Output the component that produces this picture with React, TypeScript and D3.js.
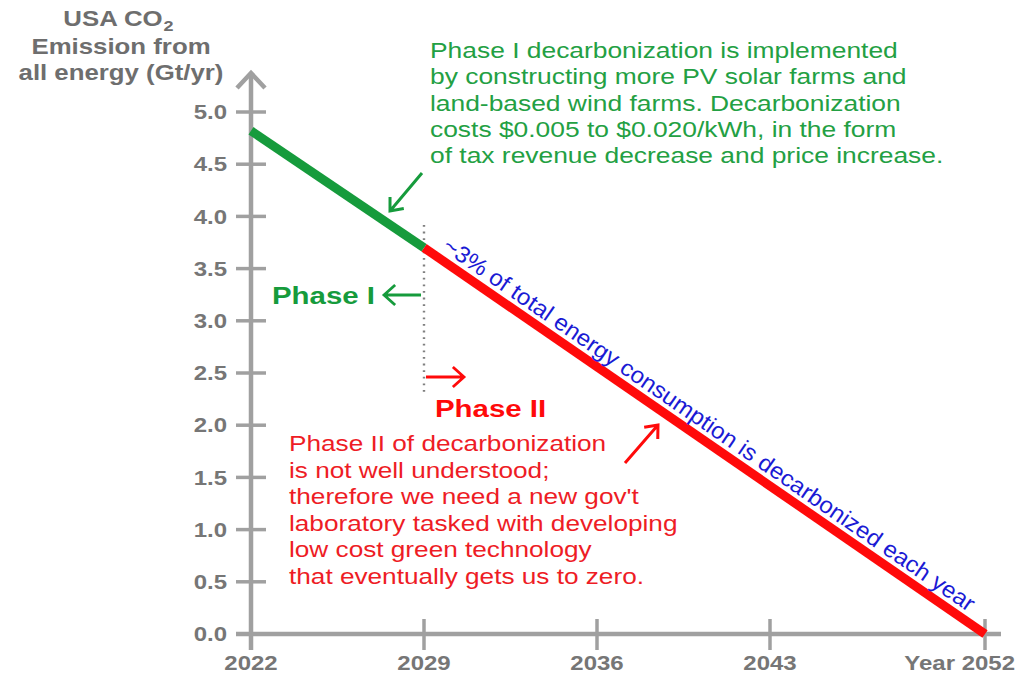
import React from "react";
import * as d3 from "d3";

// ---- data ----
const phaseIYears = [2022, 2029];
const phaseIValues = [4.82, 3.7];
const phaseIIYears = [2029, 2052];
const phaseIIValues = [3.7, 0.0];
const yTicks = [0, 0.5, 1.0, 1.5, 2.0, 2.5, 3.0, 3.5, 4.0, 4.5, 5.0];
const xTicks = [2022, 2029, 2036, 2043, 2052];
const xTickLabels = ["2022", "2029", "2036", "2043", "Year 2052"];
const titleLines = ["Emission from", "all energy (Gt/yr)"];
const greenNote = [
  "Phase I decarbonization is implemented",
  "by constructing more PV solar farms and",
  "land-based wind farms. Decarbonization",
  "costs $0.005 to $0.020/kWh, in the form",
  "of tax revenue decrease and price increase.",
];
const redNote = [
  "Phase II of decarbonization",
  "is not well understood;",
  "therefore we need a new gov't",
  "laboratory tasked with developing",
  "low cost green technology",
  "that eventually gets us to zero.",
];
const blueNote = "~3% of total energy consumption is decarbonized each year";

const FONT = "'Liberation Sans', Arial, Helvetica, sans-serif";
const SX = 1.2;
const AXIS = "#a0a0a0";
const LABEL = "#767676";
const GREEN_LINE = "#169b3c";
const GREEN_TEXT = "#23a043";
const RED = "#ff0a0a";
const RED_TEXT = "#ee1c25";
const BLUE = "#1a1ad4";

function SText(props: {
  x: number;
  y: number;
  size: number;
  fill: string;
  weight?: string | number;
  anchor?: string;
  dy?: string;
  sx?: number;
  children: React.ReactNode;
}) {
  const { x, y, size, fill, weight = "normal", anchor = "start", dy, sx = SX, children } = props;
  return (
    <g transform={`translate(${x},${y}) scale(${sx},1)`}>
      <text
        x={0}
        y={0}
        dy={dy}
        fontFamily={FONT}
        fontSize={size}
        fontWeight={weight}
        fill={fill}
        textAnchor={anchor}
      >
        {children}
      </text>
    </g>
  );
}

function arrow(x1: number, y1: number, x2: number, y2: number, len = 14, deg = 40) {
  const a = Math.atan2(y1 - y2, x1 - x2);
  const r = (deg * Math.PI) / 180;
  const ax1 = x2 + len * Math.cos(a + r);
  const ay1 = y2 + len * Math.sin(a + r);
  const ax2 = x2 + len * Math.cos(a - r);
  const ay2 = y2 + len * Math.sin(a - r);
  return `M${x1},${y1}L${x2},${y2}M${ax1},${ay1}L${x2},${y2}L${ax2},${ay2}`;
}

export default function App() {
  const x = d3.scaleLinear().domain([2022, 2029, 2036, 2043, 2052]).range([251, 424, 597, 770, 985]);
  const y = d3.scaleLinear().domain([0, 5]).range([634, 112]);

  const line = d3
    .line<[number, number]>()
    .x((d) => x(d[0]))
    .y((d) => y(d[1]));

  const p1 = phaseIYears.map((yr, i) => [yr, phaseIValues[i]] as [number, number]);
  const p2 = phaseIIYears.map((yr, i) => [yr, phaseIIValues[i]] as [number, number]);

  const x0 = x(xTicks[0]);
  const yBase = y(0);

  // blue text placement along red line
  const sx0 = x(phaseIIYears[0]);
  const sy0 = y(phaseIIValues[0]);
  const sx1 = x(phaseIIYears[1]);
  const sy1 = y(phaseIIValues[1]);
  const ang = Math.atan2(sy1 - sy0, sx1 - sx0);
  const ux = Math.cos(ang);
  const uy = Math.sin(ang);
  const nx = uy;
  const ny = -ux;
  const off = 8.5;
  const startT = 15;
  const bx = sx0 + ux * startT + nx * off;
  const by = sy0 + uy * startT + ny * off;

  return (
    <svg
      width={1024}
      height={682}
      style={{ position: "absolute", left: 0, top: 0, background: "#fff" }}
    >
      {/* title */}
      <SText x={113} y={26} size={21.5} weight="bold" fill="#6e6e6e" anchor="middle">
        USA CO
      </SText>
      <SText x={163.5} y={31} size={15} weight="bold" fill="#6e6e6e" anchor="start">
        2
      </SText>
      {titleLines.map((t, i) => (
        <SText key={t} x={121} y={54 + i * 26} size={21.5} weight="bold" fill="#6e6e6e" anchor="middle">
          {t}
        </SText>
      ))}

      {/* axes */}
      <line x1={x0} x2={x0} y1={yBase + 16} y2={74} stroke={AXIS} strokeWidth={4.5} />
      <path
        d={`M${x0 - 14},${88}L${x0},${73}L${x0 + 14},${88}`}
        fill="none"
        stroke={AXIS}
        strokeWidth={4.5}
        strokeLinejoin="miter"
      />
      <line x1={x0 - 15} x2={1001} y1={yBase} y2={yBase} stroke={AXIS} strokeWidth={4.5} />

      {yTicks.map((v) => (
        <g key={"y" + v}>
          <line x1={x0 - 15} x2={x0 + 15} y1={y(v)} y2={y(v)} stroke={AXIS} strokeWidth={3.5} />
          <SText x={227} y={y(v)} dy="0.36em" size={20} weight="bold" fill={LABEL} anchor="end">
            {v.toFixed(1)}
          </SText>
        </g>
      ))}
      {xTicks.map((v, i) => (
        <g key={"x" + v}>
          <line x1={x(v)} x2={x(v)} y1={yBase - 15} y2={yBase + 16} stroke={AXIS} strokeWidth={3.5} />
          <SText
            x={i === xTicks.length - 1 ? 1015 : x(v)}
            y={670}
            size={20}
            weight="bold"
            fill={LABEL}
            anchor={i === xTicks.length - 1 ? "end" : "middle"}
          >
            {xTickLabels[i]}
          </SText>
        </g>
      ))}

      {/* dotted divider */}
      <line
        x1={x(2029)}
        x2={x(2029)}
        y1={225}
        y2={395}
        stroke="#808080"
        strokeWidth={2.4}
        strokeDasharray="1.8 4.8"
      />

      {/* data lines */}
      <path d={line(p2) || ""} fill="none" stroke={RED} strokeWidth={9} />
      <path d={line(p1) || ""} fill="none" stroke={GREEN_LINE} strokeWidth={9} />

      {/* blue rotated text */}
      <text
        transform={`translate(${bx},${by}) rotate(${(ang * 180) / Math.PI})`}
        x={0}
        y={0}
        fontFamily={FONT}
        fontSize={23}
        fill={BLUE}
        textLength={640}
        lengthAdjust="spacingAndGlyphs"
      >
        {blueNote}
      </text>

      {/* green note */}
      {greenNote.map((t, i) => (
        <SText key={t} x={430} y={58 + i * 26.3} size={22} fill={GREEN_TEXT}>
          {t}
        </SText>
      ))}
      <path d={arrow(422, 173, 390, 211)} fill="none" stroke={GREEN_LINE} strokeWidth={3} />

      {/* phase labels */}
      <SText x={272} y={304} size={24.5} weight="bold" fill={GREEN_LINE}>
        Phase I
      </SText>
      <path d={arrow(421, 295, 384, 295, 15, 42)} fill="none" stroke={GREEN_LINE} strokeWidth={2.8} />
      <path d={arrow(426, 377, 464, 377, 15, 42)} fill="none" stroke={RED} strokeWidth={2.8} />
      <SText x={435} y={417} size={24.5} weight="bold" fill={RED}>
        Phase II
      </SText>

      {/* red note */}
      {redNote.map((t, i) => (
        <SText key={t} x={289} y={451 + i * 26.5} size={22} fill={RED_TEXT} sx={1.19}>
          {t}
        </SText>
      ))}
      <path d={arrow(625, 463, 658, 425)} fill="none" stroke={RED} strokeWidth={3} />
    </svg>
  );
}
